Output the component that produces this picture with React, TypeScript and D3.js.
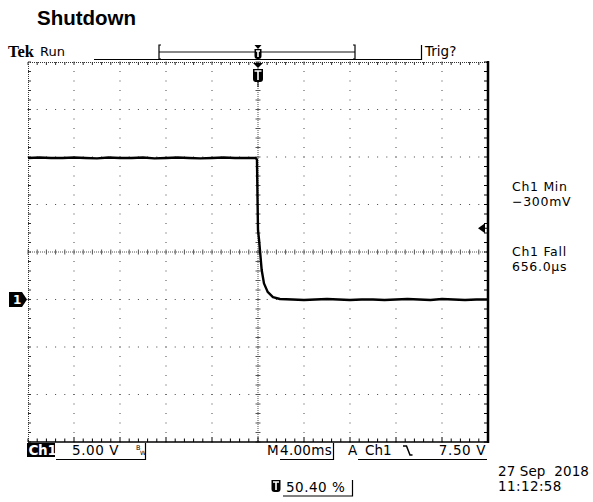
import * as d3 from 'd3';

// waveform: time in ms (trigger at 0), volts on Ch1
const timeMs = [
  -20, -19, -18, -17, -16, -15, -14, -13, -12, -11, -10, -9, -8, -7, -6, -5, -4, -3, -2, -1, -0.2,
  -0.09, -0.04, 0, 0.09, 0.17, 0.32, 0.52, 0.84, 1.3, 1.9,
  3, 4, 5, 6, 7, 8, 9, 10, 11, 12, 13, 14, 15, 16, 17, 18, 19, 20,
];
const volts = [
  14.9, 14.95, 14.9, 14.9, 14.95, 14.9, 14.85, 14.95, 14.9, 14.9, 14.95, 14.85, 14.9, 14.95, 14.9, 14.85, 14.9, 14.95, 14.9, 14.9, 14.9,
  14.7, 10.5, 7.3, 6.3, 5.2, 3.1, 1.7, 0.8, 0.26, 0.05,
  0.0, -0.05, 0.0, 0.05, 0.0, -0.05, 0.0, 0.0, -0.05, 0.0, 0.05, 0.0, -0.05, 0.05, 0.0, -0.05, 0.0, 0.0,
];

const timeDomain = [-20, 20];
const voltDomain = [-15, 25];
const triggerLevel = 7.5;

const readouts = [
  ['Ch1 Min', '\u2212300mV'],
  ['Ch1 Fall', '656.0\u00b5s'],
];

const FONT = '"DejaVu Sans", Verdana, sans-serif';

const App = () => {
  const x = d3.scaleLinear().domain(timeDomain).range([28, 488]);
  const y = d3.scaleLinear().domain(voltDomain).range([442, 62]);

  const xMajor = d3.range(-16, 17, 4);
  const yMajor = d3.range(-10, 25, 5);
  const xMinor = d3.range(-20, 20.01, 0.8);
  const yMinor = d3.range(-15, 25.01, 1);

  const line = d3.line<number>()
    .x((_, i) => x(timeMs[i]))
    .y(d => y(d));

  const [x0, x1] = x.range();
  const [yb, yt] = y.range();

  const tShield = (cx: number, top: number, w: number, h: number) => (
    <g>
      <path d={`M${cx - w / 2},${top} h${w} v${h - 3} q0,3 -3,3 h${-(w - 6)} q-3,0 -3,-3 z`} fill="#000" />
      <path d={`M${cx - w / 2 + 1.5},${top + 2} h${w - 3} M${cx},${top + 2} v${h - 4}`} stroke="#fff" strokeWidth={1.6} />
    </g>
  );

  return (
    <svg width={593} height={502} style={{ position: 'absolute', left: 0, top: 0, background: '#fff' }}>
      <text x={37} y={25} fontFamily='"Liberation Sans", Arial, sans-serif' fontWeight="bold" fontSize={20.5}>Shutdown</text>

      {/* header */}
      <text x={8} y={57} fontFamily='"Liberation Serif", serif' fontWeight="bold" fontSize={16.5}>Tek</text>
      <text x={40} y={56} fontFamily={FONT} fontSize={13}>Run</text>
      <line x1={94} x2={421} y1={59.5} y2={59.5} stroke="#000" strokeWidth={1.2} />
      <line x1={159} x2={355} y1={52} y2={52} stroke="#888" strokeWidth={2} />
      <path d="M161,45 h-2 v14 h2 M353,45 h2 v14 h-2" fill="none" stroke="#000" strokeWidth={1.2} />
      <line x1={421.5} x2={421.5} y1={45} y2={60} stroke="#000" strokeWidth={1.2} />
      <text x={425} y={56} fontFamily={FONT} fontSize={13.5}>Trig?</text>
      <path d={`M${x(0) - 3.5},45 h7 l-3.5,4 z`} fill="#000" />
      {tShield(x(0), 49, 7, 10)}

      {/* graticule: major lines as dots every minor step */}
      {xMajor.filter(t => t !== 0).map(t =>
        yMinor.map(v => <rect key={`vx${t}_${v}`} x={x(t) - 0.5} y={y(v) - 0.5} width={1} height={1} fill="#444" />)
      )}
      {yMajor.filter(v => v !== 5).map(v =>
        xMinor.map(t => <rect key={`hy${v}_${t}`} x={x(t) - 0.5} y={y(v) - 0.5} width={1} height={1} fill="#444" />)
      )}
      {/* center cross */}
      <line x1={x0} x2={x1} y1={y(5)} y2={y(5)} stroke="#555" strokeWidth={1} strokeDasharray="1,1" />
      <line x1={x(0)} x2={x(0)} y1={yt} y2={yb} stroke="#555" strokeWidth={1} strokeDasharray="1,1" />
      {xMinor.map(t => <line key={`cx${t}`} x1={x(t)} x2={x(t)} y1={y(5) - 2.5} y2={y(5) + 2.5} stroke="#555" />)}
      {yMinor.map(v => <line key={`cy${v}`} x1={x(0) - 2.5} x2={x(0) + 2.5} y1={y(v)} y2={y(v)} stroke="#555" />)}

      {/* borders */}
      <line x1={x0} x2={x1} y1={yt + 0.5} y2={yt + 0.5} stroke="#333" strokeDasharray="1,1" />
      <line x1={x0 + 0.5} x2={x0 + 0.5} y1={yt} y2={yb} stroke="#333" strokeDasharray="1,1" />
      {xMinor.map(t => <line key={`tt${t}`} x1={x(t)} x2={x(t)} y1={yt} y2={yt + 3} stroke="#333" />)}
      {yMinor.map(v => <line key={`lt${v}`} x1={x0} x2={x0 + 3} y1={y(v)} y2={y(v)} stroke="#333" />)}
      <line x1={x0} x2={x1} y1={yb} y2={yb} stroke="#000" strokeWidth={1.5} />
      {xMinor.map(t => <line key={`bt${t}`} x1={x(t)} x2={x(t)} y1={yb} y2={yb - (xMajor.includes(+t.toFixed(1)) ? 5 : 3.5)} stroke="#000" />)}
      <line x1={x1} x2={x1} y1={yt - 1} y2={yb + 1} stroke="#000" strokeWidth={2.5} />
      {yMinor.map(v => <line key={`rt${v}`} x1={x1} x2={x1 - 4} y1={y(v)} y2={y(v)} stroke="#000" />)}

      {/* trace */}
      <path d={line(volts) ?? ''} fill="none" stroke="#000" strokeWidth={2.4} strokeLinejoin="round" />

      {/* trigger marker top */}
      <path d={`M${x(0) - 5},63 h10 l-5,5 z`} fill="#000" />
      {tShield(x(0), 69, 10, 13)}
      <line x1={x(0)} x2={x(0)} y1={82} y2={87} stroke="#000" />

      {/* trigger level arrow */}
      <path d={`M${x1 - 10},${y(triggerLevel)} l7,-5 v10 z`} fill="#000" />
      <line x1={x1 - 4} x2={x1} y1={y(triggerLevel)} y2={y(triggerLevel)} stroke="#000" />

      {/* channel 1 ground marker */}
      <path d={`M9,${y(0) - 7.5} h13 l5,7.5 l-5,7.5 h-13 z`} fill="#000" />
      <text x={13} y={y(0) + 4.5} fontFamily={FONT} fontWeight="bold" fontSize={12} fill="#fff">1</text>

      {/* readouts */}
      {readouts.map((r, i) => (
        <g key={r[0]} fontFamily={FONT} fontSize={12.5} letterSpacing={0.7}>
          <text x={512} y={191 + i * 65}>{r[0]}</text>
          <text x={512} y={206 + i * 65}>{r[1]}</text>
        </g>
      ))}

      {/* bottom status */}
      <g fontFamily={FONT} fontSize={13.5}>
        <rect x={27} y={443} width={28} height={14} fill="#000" />
        <text x={28.5} y={455} fill="#fff" fontWeight="bold" letterSpacing={-0.3}>Ch1</text>
        <text x={72} y={455} letterSpacing={0.6}>5.00 V</text>
        <text x={136} y={450} fontSize={6.5}>B</text>
        <text x={140} y={455} fontSize={6}>W</text>
        <path d="M56,459.5 H145.5 V443" fill="none" stroke="#000" strokeWidth={1.2} />

        <text x={267} y={455}>M</text>
        <text x={280} y={455} letterSpacing={0.3}>4.00ms</text>
        <path d="M280,459.5 H333.5 V443" fill="none" stroke="#000" strokeWidth={1.2} />
        <text x={348} y={455}>A</text>
        <text x={365} y={455}>Ch1</text>
        <path d="M403,446 h3.5 l3.5,9 h2.5" fill="none" stroke="#000" strokeWidth={1.5} />
        <text x={486} y={455} textAnchor="end" letterSpacing={0.6}>7.50 V</text>
        <path d="M358,459.5 H487" fill="none" stroke="#000" strokeWidth={1.2} />

        {tShield(276, 480, 9, 12)}
        <text x={286} y={492} letterSpacing={0.5}>50.40 %</text>
        <path d="M283,496 H352.5 V480" fill="none" stroke="#000" strokeWidth={1.2} />

        <text x={498} y={476} xmlSpace="preserve" letterSpacing={0.1}>27 Sep  2018</text>
        <text x={498} y={491} letterSpacing={0.4}>11:12:58</text>
      </g>
    </svg>
  );
};

export default App;
